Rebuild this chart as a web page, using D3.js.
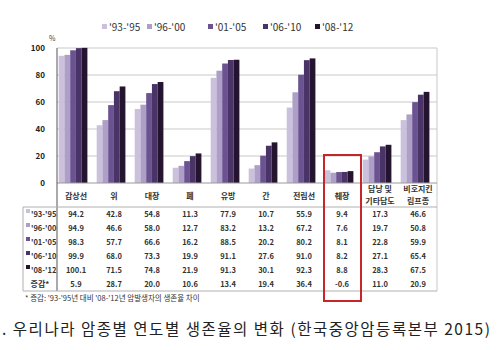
<!DOCTYPE html>
<html>
<head>
<meta charset="utf-8">
<script src="https://cdn.jsdelivr.net/npm/d3@7/dist/d3.min.js"></script>
<style>
  html, body { margin: 0; padding: 0; background: #fff; }
  svg { display: block; }
  text { font-family: "Noto Sans CJK KR", "Noto Sans", sans-serif; }
</style>
</head>
<body>
<svg id="chart" width="500" height="350"></svg>
<script>
// Cancer sites (two-line names split with "\n")
const categories = ["갑상선", "위", "대장", "폐", "유방", "간", "전립선", "췌장", "담낭 및\n기타담도", "비호지킨\n림프종"];
const periods = ["'93-'95", "'96-'00", "'01-'05", "'06-'10", "'08-'12"];
const legendLabels = ["'93-'95", "'96-'00", "'01-'05", "'06-'10", "'08-'12"];

// 5-year relative survival (%) by period, one array per period
const s9395 = [94.2, 42.8, 54.8, 11.3, 77.9, 10.7, 55.9, 9.4, 17.3, 46.6];
const s9600 = [94.9, 46.6, 58.0, 12.7, 83.2, 13.2, 67.2, 7.6, 19.7, 50.8];
const s0105 = [98.3, 57.7, 66.6, 16.2, 88.5, 20.2, 80.2, 8.1, 22.8, 59.9];
const s0610 = [99.9, 68.0, 73.3, 19.9, 91.1, 27.6, 91.0, 8.2, 27.1, 65.4];
const s0812 = [100.1, 71.5, 74.8, 21.9, 91.3, 30.1, 92.3, 8.8, 28.3, 67.5];
// Change between '93-'95 and '08-'12
const change = [5.9, 28.7, 20.0, 10.6, 13.4, 19.4, 36.4, -0.6, 11.0, 20.9];
const changeLabel = "증감*";
const yTicks = [0, 20, 40, 60, 80, 100];

const series = [s9395, s9600, s0105, s0610, s0812];
const colors = ["#cbc1dc", "#ad9fc7", "#6b5391", "#4a3467", "#241430"];

const svg = d3.select("#chart");
const plot = { left: 57, right: 437, top: 48, bottom: 183 };

const x = d3.scaleBand().domain(categories).range([plot.left, plot.right]);
const xInner = d3.scaleBand().domain(d3.range(periods.length))
  .range([1.7, 1.7 + 28.7]);
const y = d3.scaleLinear().domain([0, 100]).range([plot.bottom, plot.top]);

// Gridlines
svg.append("g").selectAll("line").data(yTicks.filter(d => d > 0)).join("line")
  .attr("x1", plot.left).attr("x2", plot.right)
  .attr("y1", d => y(d)).attr("y2", d => y(d))
  .attr("stroke", "#c9c9c9").attr("stroke-width", 1);

// Y axis labels
const yAxis = d3.axisLeft(y).tickValues(yTicks).tickSize(0).tickPadding(12);
const gy = svg.append("g").attr("transform", `translate(${plot.left},0)`).call(yAxis);
gy.select(".domain").remove();
gy.selectAll("text").attr("font-size", 8).attr("font-weight", 700).attr("fill", "#222")
  .attr("font-family", "'Liberation Sans', Arial, sans-serif");
svg.append("text").attr("x", 49).attr("y", 41).attr("font-size", 7).attr("fill", "#444")
  .attr("font-family", "'Liberation Sans', Arial, sans-serif").text("%");

// Bars
const groups = svg.append("g").selectAll("g").data(categories).join("g")
  .attr("transform", d => `translate(${x(d)},0)`);
groups.selectAll("rect")
  .data((d, i) => series.map((s, k) => ({ k, v: s[i] })))
  .join("rect")
  .attr("x", d => xInner(d.k))
  .attr("width", xInner.bandwidth())
  .attr("y", d => y(d.v))
  .attr("height", d => y(0) - y(d.v))
  .attr("fill", d => colors[d.k]);

// Frame lines: right border, baseline, category separator axis
const tableTop = 207, rowH = 14, tableBottom = tableTop + rowH * 6, tableLeft = 23;
svg.append("line").attr("x1", plot.right).attr("x2", plot.right)
  .attr("y1", plot.top).attr("y2", tableBottom).attr("stroke", "#c9c9c9");
svg.append("line").attr("x1", plot.left).attr("x2", plot.right)
  .attr("y1", y(0)).attr("y2", y(0)).attr("stroke", "#9a9a9a");
svg.append("line").attr("x1", plot.left).attr("x2", plot.left)
  .attr("y1", plot.top).attr("y2", tableBottom).attr("stroke", "#555");

// Category labels
const catG = svg.append("g").selectAll("text").data(categories).join("text")
  .attr("text-anchor", "middle").attr("font-size", 8).attr("font-weight", 700).attr("fill", "#333");
catG.each(function (d) {
  const lines = d.split("\n");
  const t = d3.select(this);
  const cx = x(d) + x.bandwidth() / 2;
  const y0 = lines.length === 1 ? 199 : 192;
  lines.forEach((ln, i) => {
    t.append("tspan").attr("x", cx).attr("y", y0 + i * 12).text(ln);
  });
});

// Table frame
svg.append("line").attr("x1", tableLeft).attr("x2", plot.right)
  .attr("y1", tableTop).attr("y2", tableTop).attr("stroke", "#b0b0b0");
svg.append("line").attr("x1", tableLeft).attr("x2", plot.right)
  .attr("y1", tableBottom).attr("y2", tableBottom).attr("stroke", "#b0b0b0");
svg.append("line").attr("x1", tableLeft).attr("x2", tableLeft)
  .attr("y1", tableTop).attr("y2", tableBottom).attr("stroke", "#b0b0b0");

// Table rows
const rows = series.map((s, k) => ({ label: periods[k], values: s, k }))
  .concat([{ label: changeLabel, values: change, k: -1 }]);
const rowG = svg.append("g").selectAll("g").data(rows).join("g")
  .attr("transform", (d, i) => `translate(0,${tableTop + rowH * i + rowH / 2})`);
rowG.filter(d => d.k >= 0).append("rect")
  .attr("x", 26).attr("y", -5).attr("width", 4).attr("height", 4)
  .attr("fill", d => colors[d.k]);
rowG.append("text")
  .attr("x", d => d.k >= 0 ? 31 : 40)
  .attr("y", 3)
  .attr("text-anchor", d => d.k >= 0 ? "start" : "middle")
  .attr("font-size", d => d.k >= 0 ? 7.5 : 8)
  .attr("font-weight", 700)
  .attr("fill", "#333")
  .text(d => d.label);
rowG.selectAll("text.v").data(d => d.values.map((v, i) => ({ v, i })))
  .join("text").attr("class", "v")
  .attr("x", d => x(categories[d.i]) + x.bandwidth() / 2)
  .attr("y", 3)
  .attr("text-anchor", "middle")
  .attr("font-size", 7.5).attr("font-weight", 700).attr("fill", "#333")
  .text(d => d.v.toFixed(1));

// Footnote
svg.append("text").attr("x", 25).attr("y", 301).attr("font-size", 7.5).attr("fill", "#333")
  .text("* 증감: '93-'95년 대비 '08-'12년 암발생자의 생존율 차이");

// Highlight box around the pancreas column
const hx = x("췌장");
svg.append("rect").attr("x", hx + 1).attr("y", 155).attr("width", 37).attr("height", 146)
  .attr("fill", "none").attr("stroke", "#c5262a").attr("stroke-width", 2);

// Legend
const legendX = [102, 147, 208, 263, 315];
const lg = svg.append("g").selectAll("g").data(legendLabels).join("g")
  .attr("transform", (d, i) => `translate(${legendX[i]},28)`);
lg.append("rect").attr("x", 0).attr("y", -4).attr("width", 5).attr("height", 5)
  .attr("fill", (d, i) => colors[i]);
lg.append("text").attr("x", 7).attr("y", 2.5).attr("font-size", 10).attr("fill", "#333")
  .text(d => d);

// Title
svg.append("text").attr("x", 2).attr("y", 335).attr("font-size", 15.5).attr("fill", "#222")
  .attr("textLength", 488).attr("lengthAdjust", "spacing")
  .text(". 우리나라 암종별 연도별 생존율의 변화 (한국중앙암등록본부 2015)");
</script>
</body>
</html>
